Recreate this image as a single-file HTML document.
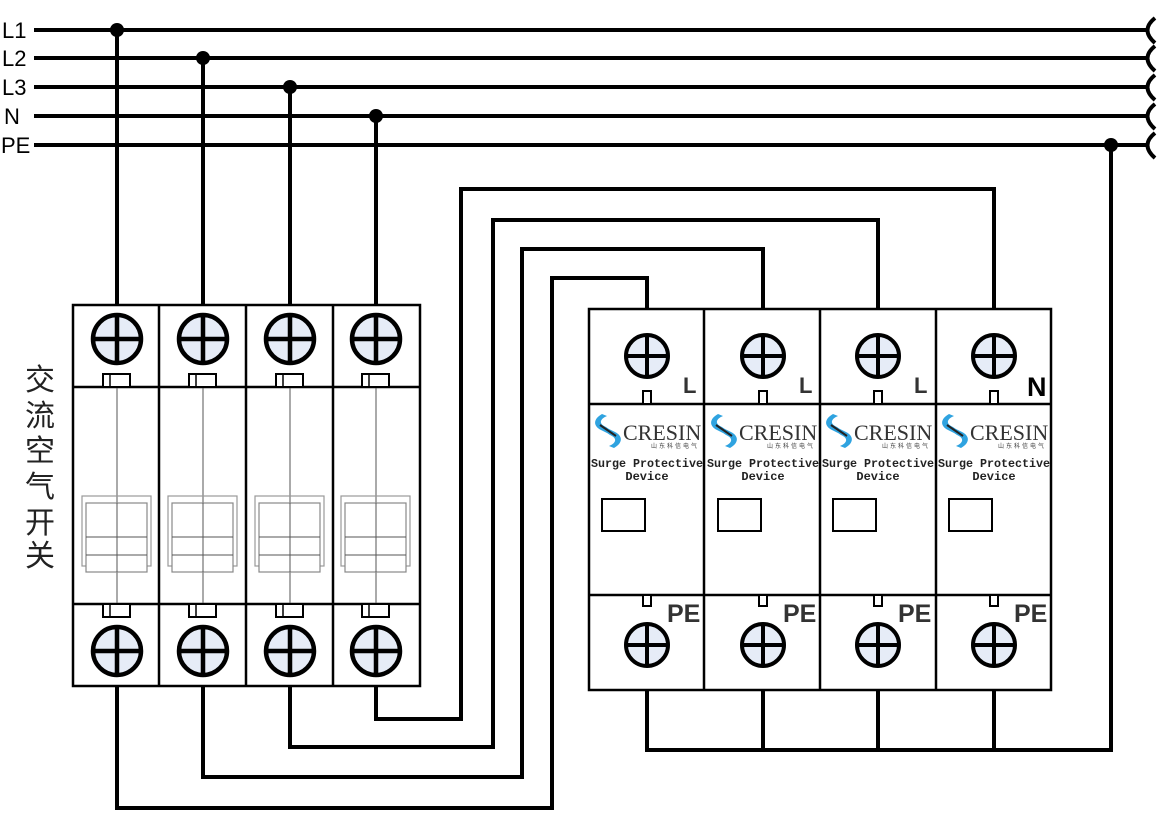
<!DOCTYPE html>
<html><head><meta charset="utf-8"><style>
html,body{margin:0;padding:0;background:#fff;width:1174px;height:839px;overflow:hidden}
svg{display:block}
</style></head><body>
<svg width="1174" height="839" viewBox="0 0 1174 839" xmlns="http://www.w3.org/2000/svg">
<defs>
<g id="scr">
<circle r="24" fill="#e6ecf7" stroke="#000" stroke-width="4.5"/>
<line x1="-24" y1="0" x2="24" y2="0" stroke="#000" stroke-width="4.5"/>
<line x1="0" y1="-24" x2="0" y2="24" stroke="#000" stroke-width="4.5"/>
</g>
<g id="scr2">
<circle r="21" fill="#e6ecf7" stroke="#000" stroke-width="4"/>
<line x1="-21" y1="0" x2="21" y2="0" stroke="#000" stroke-width="4"/>
<line x1="0" y1="-21" x2="0" y2="21" stroke="#000" stroke-width="4"/>
</g>
<g id="logo">
<path d="M10,3 C1,8 1,15 9,19 L17,23 C19,19 16,17 12,15 C7,12 8,8 15,5 Z" fill="#2fa3e0"/>
<path d="M22,37 C31,32 31,25 23,21 L15,17 C13,21 16,23 20,25 C25,28 24,32 17,35 Z" fill="#2fa3e0"/>
<line x1="8" y1="14" x2="24" y2="25" stroke="#222" stroke-width="2"/>
</g>
</defs>
<g font-family="'Liberation Sans','DejaVu Sans',sans-serif" font-size="22" fill="#000">
<text x="2" y="38">L1</text><text x="2" y="66">L2</text><text x="2" y="95">L3</text><text x="4" y="124">N</text><text x="1" y="153">PE</text>
</g>
<g stroke="#000" stroke-width="4" fill="none">
<line x1="34" y1="30" x2="1147" y2="30"/><line x1="34" y1="58" x2="1147" y2="58"/><line x1="34" y1="87" x2="1147" y2="87"/><line x1="34" y1="116" x2="1147" y2="116"/><line x1="34" y1="145" x2="1147" y2="145"/>
<path d="M1155,18 Q1140,30 1155,43"/><path d="M1155,46 Q1140,58 1155,71"/><path d="M1155,75 Q1140,87 1155,100"/><path d="M1155,104 Q1140,116 1155,129"/><path d="M1155,133 Q1140,145 1155,158"/>
<line x1="117" y1="30" x2="117" y2="305"/><line x1="203" y1="58" x2="203" y2="305"/><line x1="290" y1="87" x2="290" y2="305"/><line x1="376" y1="116" x2="376" y2="305"/>
<path d="M117,686 V808 H552 V278 H647 V309"/>
<path d="M203,686 V777 H522 V249 H763 V309"/>
<path d="M290,686 V747 H493 V220 H878 V309"/>
<path d="M376,686 V719 H461 V189 H994 V309"/>
<path d="M647,690 V750 H1111 V145"/>
<line x1="763" y1="690" x2="763" y2="750"/><line x1="878" y1="690" x2="878" y2="750"/><line x1="994" y1="690" x2="994" y2="750"/>
</g>
<g fill="#000"><circle cx="117" cy="30" r="7"/><circle cx="203" cy="58" r="7"/><circle cx="290" cy="87" r="7"/><circle cx="376" cy="116" r="7"/><circle cx="1111" cy="145" r="7"/></g>
<g font-family="'Liberation Sans','Noto Sans CJK SC',sans-serif" font-size="30" fill="#222" text-anchor="middle">
<text x="40" y="390">交</text><text x="40" y="426">流</text><text x="40" y="461">空</text><text x="40" y="497">气</text><text x="40" y="533">开</text><text x="40" y="566">关</text>
</g>
<g stroke="#000" fill="none">
<rect x="73" y="305" width="347" height="381" fill="#fff" stroke-width="2.5"/>
<line x1="73" y1="387" x2="420" y2="387" stroke-width="2.5"/><line x1="73" y1="604" x2="420" y2="604" stroke-width="2.5"/>
<line x1="159" y1="305" x2="159" y2="686" stroke-width="2.5"/><line x1="246" y1="305" x2="246" y2="686" stroke-width="2.5"/><line x1="333" y1="305" x2="333" y2="686" stroke-width="2.5"/>
</g>
<g id="pole">
<line x1="117" y1="387" x2="117" y2="604" stroke="#555" stroke-width="1"/>
<rect x="103" y="374" width="27" height="13" fill="#fff" stroke="#000" stroke-width="2"/><line x1="110" y1="374" x2="110" y2="387" stroke="#000" stroke-width="1.5"/>
<rect x="103" y="604" width="27" height="13" fill="#fff" stroke="#000" stroke-width="2"/><line x1="110" y1="604" x2="110" y2="617" stroke="#000" stroke-width="1.5"/>
<rect x="82" y="496" width="69" height="70" fill="none" stroke="#999" stroke-width="1.2"/>
<rect x="86" y="503" width="61" height="69" fill="#fff" stroke="#888" stroke-width="1.2"/>
<line x1="86" y1="537" x2="147" y2="537" stroke="#555" stroke-width="1"/><line x1="86" y1="555" x2="147" y2="555" stroke="#555" stroke-width="1"/>
<line x1="117" y1="503" x2="117" y2="572" stroke="#555" stroke-width="1"/>
<use href="#scr" x="117" y="339"/><use href="#scr" x="117" y="651"/>
</g>
<use href="#pole" x="86"/><use href="#pole" x="173"/><use href="#pole" x="259"/>
<g stroke="#000" fill="none" stroke-width="2.5">
<rect x="589" y="309" width="462" height="381" fill="#fff"/>
<line x1="589" y1="404" x2="1051" y2="404"/><line x1="589" y1="595" x2="1051" y2="595"/>
<line x1="704" y1="309" x2="704" y2="690"/><line x1="820" y1="309" x2="820" y2="690"/><line x1="936" y1="309" x2="936" y2="690"/>
</g>
<g id="spd">
<use href="#scr2" x="647" y="356"/><use href="#scr2" x="647" y="645"/>
<rect x="643" y="391" width="8" height="13" fill="#fff" stroke="#000" stroke-width="2"/>
<rect x="643" y="595" width="8" height="11" fill="#fff" stroke="#000" stroke-width="2"/>
<use href="#logo" x="592" y="411"/>
<text x="623" y="440" font-family="'Liberation Serif',serif" font-size="22" fill="#333">CRESIN</text>
<text x="651" y="448" font-family="'Noto Sans CJK SC',sans-serif" font-size="6" fill="#444" letter-spacing="2">山东科信电气</text>
<text x="647" y="467" font-family="'Liberation Mono',monospace" font-size="12" font-weight="bold" fill="#222" text-anchor="middle" textLength="112" lengthAdjust="spacingAndGlyphs">Surge Protective</text>
<text x="647" y="480" font-family="'Liberation Mono',monospace" font-size="12" font-weight="bold" fill="#222" text-anchor="middle">Device</text>
<rect x="602" y="499" width="43" height="32" fill="#fff" stroke="#000" stroke-width="2"/>
<text x="667" y="622" font-family="'Liberation Sans',sans-serif" font-size="25" font-weight="bold" fill="#333">PE</text>
</g>
<use href="#spd" x="116"/><use href="#spd" x="231"/><use href="#spd" x="347"/>
<g font-family="'Liberation Sans',sans-serif" font-weight="bold" fill="#333">
<text x="683" y="393" font-size="22">L</text><text x="799" y="393" font-size="22">L</text><text x="914" y="393" font-size="22">L</text><text x="1027" y="396" font-size="27" fill="#000">N</text>
</g>
</svg>
</body></html>
